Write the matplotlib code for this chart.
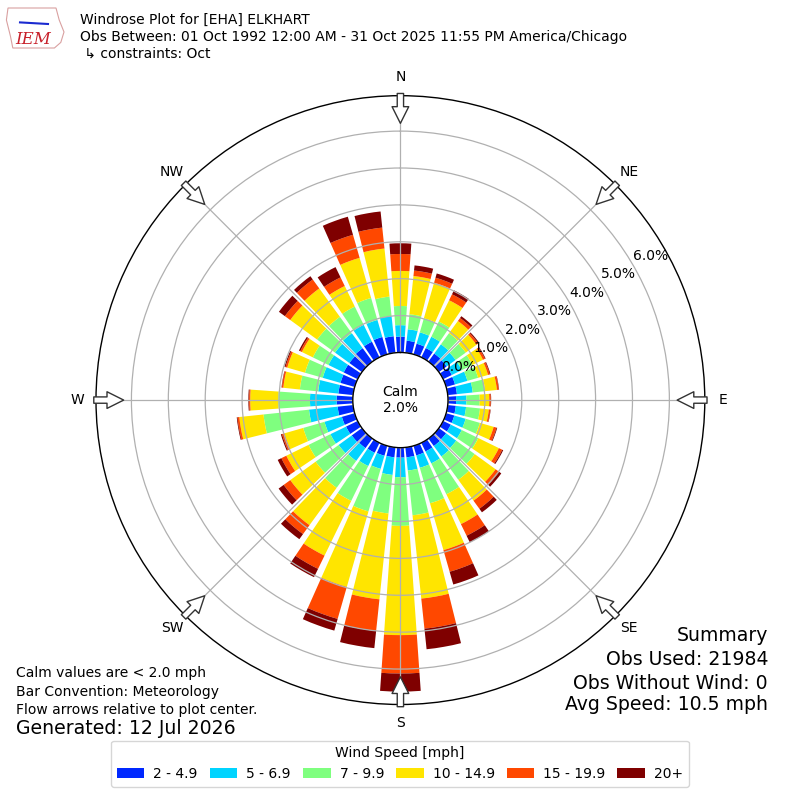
import numpy as np
import matplotlib
matplotlib.use("Agg")
import matplotlib.pyplot as plt
from matplotlib.patches import Patch, Polygon

# --- data (percent of obs, 10 deg sectors, meteorological convention) ---
directions = np.arange(0, 360, 10)
speed_labels = ['2 - 4.9', '5 - 6.9', '7 - 9.9', '10 - 14.9', '15 - 19.9', '20+']
colors = ['#0028ff', '#00d4ff', '#7fff7f', '#ffe500', '#ff4800', '#7f0000']

pct_2_5 = [0.43, 0.33, 0.30, 0.28, 0.27, 0.26, 0.26, 0.25, 0.25, 0.22, 0.22, 0.23,
           0.23, 0.24, 0.25, 0.26, 0.27, 0.27, 0.27, 0.27, 0.28, 0.30, 0.32, 0.34,
           0.35, 0.36, 0.42, 0.44, 0.40, 0.40, 0.42, 0.42, 0.45, 0.47, 0.49, 0.45]
pct_5_7 = [0.31, 0.31, 0.32, 0.34, 0.31, 0.30, 0.30, 0.35, 0.43, 0.28, 0.28, 0.32,
           0.33, 0.34, 0.35, 0.36, 0.35, 0.36, 0.53, 0.48, 0.37, 0.40, 0.43, 0.44,
           0.47, 0.49, 0.78, 0.72, 0.55, 0.50, 0.46, 0.48, 0.50, 0.51, 0.48, 0.55]
pct_7_10 = [0.52, 0.41, 0.40, 0.46, 0.37, 0.34, 0.32, 0.30, 0.34, 0.36, 0.38, 0.40,
            0.50, 0.62, 0.78, 0.93, 1.00, 1.22, 1.32, 1.05, 1.20, 1.05, 0.90, 0.77,
            0.66, 0.60, 1.24, 0.86, 0.50, 0.50, 0.47, 0.60, 0.55, 0.55, 0.62, 0.53]
pct_10_15 = [0.95, 1.04, 1.00, 0.64, 0.41, 0.36, 0.32, 0.28, 0.32, 0.26, 0.24, 0.39,
             0.62, 0.70, 0.70, 0.90, 1.32, 2.27, 2.96, 2.34, 2.13, 1.65, 1.25, 0.85,
             0.67, 0.53, 0.66, 0.76, 0.45, 0.50, 0.33, 0.90, 0.95, 0.62, 1.13, 1.31]
pct_15_20 = [0.46, 0.15, 0.14, 0.18, 0.10, 0.06, 0.06, 0.05, 0.05, 0.04, 0.04, 0.08,
             0.10, 0.12, 0.27, 0.35, 0.61, 0.82, 1.04, 0.86, 0.90, 0.40, 0.30, 0.22,
             0.15, 0.07, 0.05, 0.03, 0.04, 0.05, 0.05, 0.18, 0.30, 0.26, 0.65, 0.57]
pct_20p = [0.29, 0.14, 0.12, 0.12, 0.06, 0.03, 0.02, 0.02, 0.01, 0.01, 0.01, 0.02,
           0.03, 0.07, 0.12, 0.20, 0.36, 0.56, 0.49, 0.47, 0.33, 0.25, 0.17, 0.17,
           0.11, 0.03, 0.02, 0.02, 0.01, 0.03, 0.04, 0.20, 0.11, 0.31, 0.51, 0.44]

calm_pct = 2.0
ring_ticks = [0, 1, 2, 3, 4, 5, 6]
compass = ['N', 'NE', 'E', 'SE', 'S', 'SW', 'W', 'NW']

fig = plt.figure(figsize=(8, 8), dpi=100)
ax = fig.add_axes([0.12, 0.1194, 0.761, 0.761], projection='polar')
ax.set_theta_zero_location('N')
ax.set_theta_direction(-1)
ax.set_rorigin(-1.29)
ax.set_rlim(0, 6.96)

theta = np.radians(directions)
bottom = np.zeros(len(directions))
for vals, c in zip([pct_2_5, pct_5_7, pct_7_10, pct_10_15, pct_15_20, pct_20p], colors):
    ax.bar(theta, vals, width=np.radians(8), bottom=bottom, color=c,
           edgecolor='none', zorder=1)
    bottom = bottom + np.array(vals)

ax.set_rgrids(ring_ticks, labels=[''] * len(ring_ticks))
ax.set_thetagrids(range(0, 360, 45), labels=[''] * 8)
ax.grid(True, color='#b0b0b0', lw=0.9)
for sp in ax.spines.values():
    sp.set_color('black')
    sp.set_linewidth(1.0)

for v in ring_ticks:
    ax.text(np.radians(60), v + 0.53, f'{v:.1f}%', ha='center', va='center',
            fontsize=10)

for i, lab in enumerate(compass):
    th = np.radians(i * 45)
    ax.text(th, 7.46, lab, ha='center', va='center', fontsize=10)
    ax.annotate('', xy=(th, 6.21), xytext=(th, 7.02), annotation_clip=False,
                arrowprops=dict(arrowstyle='simple,head_length=1.0,head_width=1.0,tail_width=0.38',
                                fc='white', ec='#333333', lw=1, shrinkA=0, shrinkB=0,
                                mutation_scale=12), zorder=5)

ax.text(0.5, 0.5, f'Calm\n{calm_pct:.1f}%', transform=ax.transAxes,
        ha='center', va='center', fontsize=10)

# header
fig.text(0.1, 0.975, 'Windrose Plot for [EHA] ELKHART', fontsize=10, va='center')
fig.text(0.1, 0.954, 'Obs Between: 01 Oct 1992 12:00 AM - 31 Oct 2025 11:55 PM America/Chicago',
         fontsize=10, va='center')
fig.text(0.1, 0.9325, ' ↳ constraints: Oct', fontsize=10, va='center')

# simple IEM logo
iowa = [(0.010, 0.990), (0.070, 0.990), (0.074, 0.975), (0.080, 0.960), (0.076, 0.947),
        (0.068, 0.940), (0.016, 0.940), (0.013, 0.955), (0.008, 0.975)]
fig.patches.append(Polygon(iowa, closed=True, fill=False, ec='#d9a0a0', lw=0.8,
                           transform=fig.transFigure, figure=fig))
fig.lines.append(plt.Line2D([0.025, 0.06], [0.972, 0.970], color='#1a2ad0', lw=1.5,
                            transform=fig.transFigure, figure=fig))
fig.text(0.042, 0.951, 'IEM', color='#c8202a', fontsize=12, style='italic',
         family='DejaVu Serif', ha='center', va='center')

# footer notes
fig.text(0.02, 0.159, 'Calm values are < 2.0 mph', fontsize=10, va='center')
fig.text(0.02, 0.135, 'Bar Convention: Meteorology', fontsize=10, va='center')
fig.text(0.02, 0.1125, 'Flow arrows relative to plot center.', fontsize=10, va='center')
fig.text(0.02, 0.089, 'Generated: 12 Jul 2026', fontsize=13.6, va='center')

fig.text(0.96, 0.206, 'Summary', fontsize=13.6, ha='right', va='center')
fig.text(0.96, 0.176, 'Obs Used: 21984', fontsize=13.6, ha='right', va='center')
fig.text(0.96, 0.146, 'Obs Without Wind: 0', fontsize=13.6, ha='right', va='center')
fig.text(0.96, 0.119, 'Avg Speed: 10.5 mph', fontsize=13.6, ha='right', va='center')

handles = [Patch(facecolor=c, edgecolor='none') for c in colors]
fig.legend(handles, speed_labels, loc='lower center', bbox_to_anchor=(0.5, 0.008),
           ncol=6, title='Wind Speed [mph]', fontsize=10, title_fontsize=10,
           columnspacing=0.85, handletextpad=0.65)

fig.savefig('out.png', dpi=100)
